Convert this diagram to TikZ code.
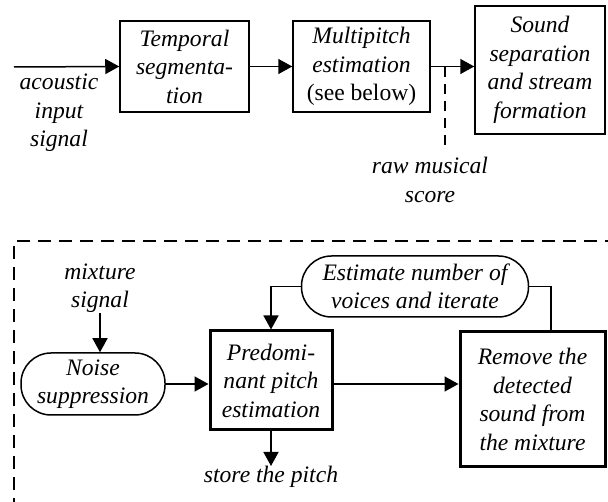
\documentclass[tikz,border=0pt]{standalone}
\usepackage{fontspec}
\setmainfont{Liberation Serif}
\usetikzlibrary{arrows.meta,calc}
\begin{document}
\begin{tikzpicture}[x=1pt,y=-1pt,
  txt/.style={font=\fontsize{23.6}{28.5}\selectfont\itshape, align=center, inner sep=0pt},
  box/.style={txt, draw, line width=1.5pt, rectangle},
  tbox/.style={txt, draw, line width=3pt, rectangle},
  pill/.style={txt, draw, line width=1.5pt, rounded corners=30pt},
  conn/.style={line width=1.5pt},
  arr/.style={conn, -{Triangle[length=14pt,width=15pt]}},
  dsh/.style={line width=1.5pt, dash pattern=on 13pt off 8pt}
]
\useasboundingbox (0,0) rectangle (608,502);
% top row
\node[box, minimum width=129pt, minimum height=91pt] (temp) at (184.5,66.5) {Temporal\\segmenta-\\tion};
\node[box, minimum width=137pt, minimum height=91pt] (multi) at (361.5,66.5) {Multipitch\\estimation\\{\upshape(see below)}};
\node[box, minimum width=130pt, minimum height=128pt] (sound) at (540,70) {Sound\\separation\\and stream\\formation};
\node[txt] (acou) at (59,113) {acoustic\\input\\signal};
\node[txt] (raw) at (430,180) {raw musical\\score};
\coordinate (in) at (14,67);
\coordinate (tap) at (445,67);
\coordinate (tapend) at (445,150);
\draw[arr] (in) -- (temp.west);
\draw[arr] (temp.east) -- (multi.west);
\draw[arr] (multi.east) -- (multi.east -| sound.west);
\draw[line width=1.5pt, dash pattern=on 10pt off 7pt] (tap) -- (tapend);
% bottom dashed frame
\begin{scope}
\clip (0,0) rectangle (608,502);
\draw[dsh] (14,700) -- (14,241) -- (800,241);
\end{scope}
\node[txt] (mix) at (100,288) {mixture\\signal};
\node[pill, minimum width=144pt, minimum height=62pt] (noise) at (93,384) {Noise\\suppression};
\node[tbox, minimum width=122pt, minimum height=99pt] (pred) at (271,380.5) {Predomi-\\nant pitch\\estimation};
\node[tbox, minimum width=145pt, minimum height=135pt] (rem) at (532.5,399.5) {Remove the\\detected\\sound from\\the mixture};
\node[pill, minimum width=227pt, minimum height=61pt] (est) at (415,286.5) {Estimate number of\\voices and iterate};
\node[txt, anchor=north] (store) at (271,466) {store the pitch};
\draw[arr] (mix.south) -- (mix.south |- noise.north);
\draw[arr] (noise.east) -- (noise.east -| pred.west);
\draw[arr] (pred.east |- noise.east) -- (noise.east -| rem.west);
\draw[arr] (est.west) -| (pred.north);
\draw[conn] (est.east) -| ([xshift=18.5pt]rem.north);
\draw[arr] (pred.south) -- (store.north);
\end{tikzpicture}
\end{document}
